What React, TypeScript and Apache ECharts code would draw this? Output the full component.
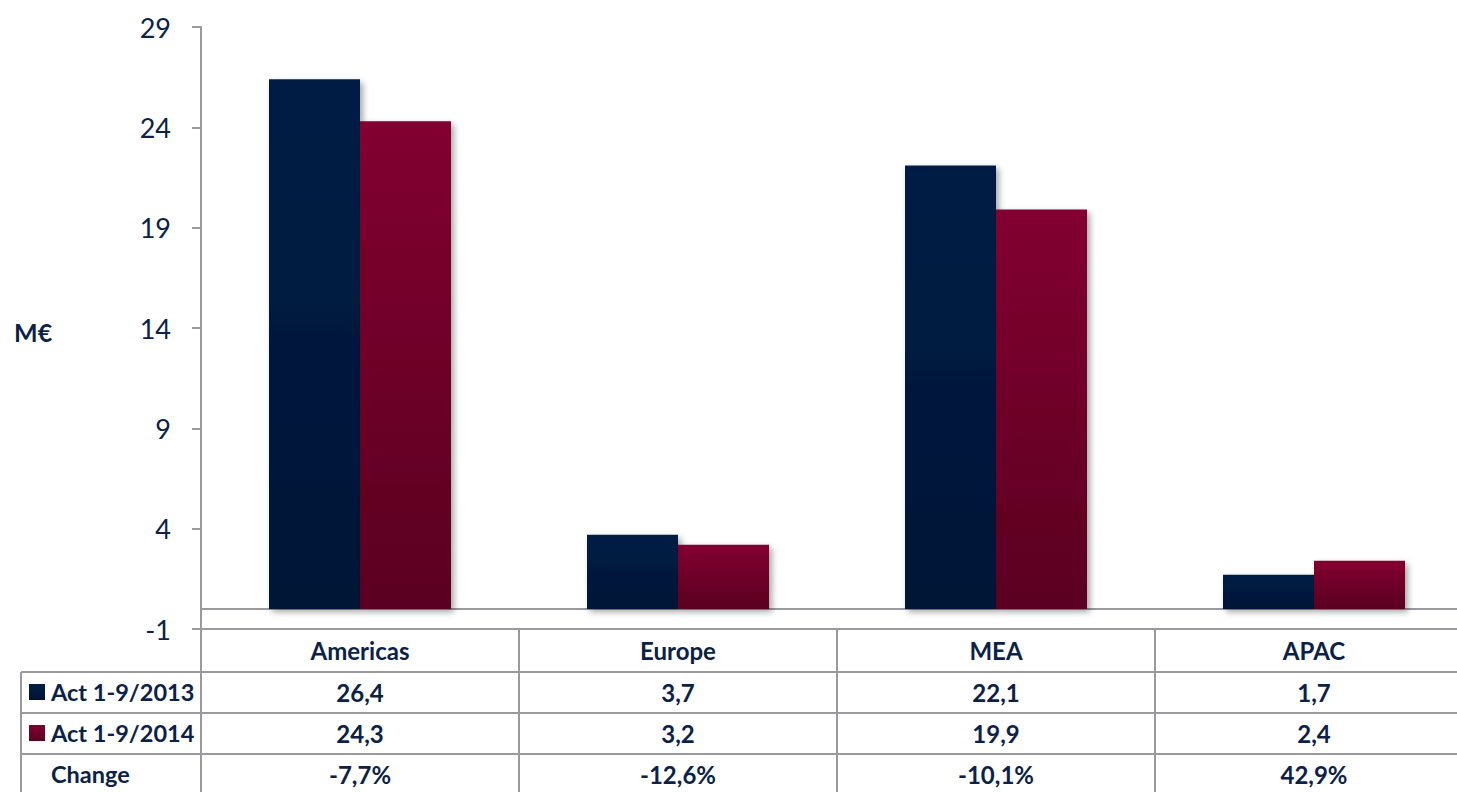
import React, { useEffect, useRef } from "react";
import * as echarts from "echarts";

const categories = ["Americas", "Europe", "MEA", "APAC"];
const seriesNames = ["Act 1-9/2013", "Act 1-9/2014"];
const values2013 = [26.4, 3.7, 22.1, 1.7];
const values2014 = [24.3, 3.2, 19.9, 2.4];
const changeLabels = ["-7,7%", "-12,6%", "-10,1%", "42,9%"];
const yMin = -1;
const yMax = 29;
const yInterval = 5;

const NAVY = "#0b2147";
const GRAY = "#9a9a9e";
const FONT = "Lato, 'Open Sans', sans-serif";

const fmt = (v: number) => v.toFixed(1).replace(".", ",");

const navyGrad = () =>
  new echarts.graphic.LinearGradient(0, 0, 0, 1, [
    { offset: 0, color: "#041f45" },
    { offset: 1, color: "#001336" },
  ]);
const redGrad = () =>
  new echarts.graphic.LinearGradient(0, 0, 0, 1, [
    { offset: 0, color: "#820030" },
    { offset: 1, color: "#5a0020" },
  ]);

export default function App() {
  const ref = useRef<HTMLDivElement>(null);
  useEffect(() => {
    if (!ref.current) return;
    const chart = echarts.init(ref.current, null, { renderer: "svg" });
    const W = 1473;
    const gridTop = 27;
    const gridBottomY = 629;
    const rowLines = [672, 713, 754];

    const labelAxis = (data: string[], margin: number, show: boolean) => ({
      type: "category",
      data,
      position: "bottom",
      gridIndex: 0,
      axisLine: { show, onZero: false, lineStyle: { color: GRAY, width: 2 } },
      axisTick: { show, length: 163, lineStyle: { color: GRAY, width: 2 } },
      axisLabel: {
        show: true,
        interval: 0,
        margin,
        verticalAlign: "middle",
        color: NAVY,
        fontFamily: FONT,
        fontWeight: "bold",
        fontSize: 24,
      },
      splitLine: { show: false },
    });

    const barShadow = {
      shadowColor: "rgba(0,0,0,0.35)",
      shadowBlur: 6,
      shadowOffsetX: 3,
      shadowOffsetY: 3,
    };

    const rowHeaderCenters = [692, 733];

    chart.setOption({
      animation: false,
      backgroundColor: "#ffffff",
      textStyle: { fontFamily: FONT },
      grid: { left: 201, right: 0, top: gridTop, bottom: 792 - gridBottomY, containLabel: false },
      xAxis: [
        {
          type: "category",
          data: categories,
          gridIndex: 0,
          axisLine: { show: true, onZero: true, lineStyle: { color: GRAY, width: 2 } },
          axisTick: { show: false },
          axisLabel: { show: false },
        },
        labelAxis(categories, 21, true),
        labelAxis(values2013.map(fmt), 63, false),
        labelAxis(values2014.map(fmt), 104, false),
        labelAxis(changeLabels, 145, false),
      ],
      yAxis: {
        type: "value",
        min: yMin,
        max: yMax,
        interval: yInterval,
        axisLine: { show: true, lineStyle: { color: GRAY, width: 2 } },
        axisTick: { show: true, inside: false, length: 9, lineStyle: { color: GRAY, width: 2 } },
        splitLine: { show: false },
        axisLabel: { color: NAVY, fontFamily: FONT, fontSize: 27, margin: 30 },
      },
      series: [
        {
          name: seriesNames[0],
          type: "bar",
          xAxisIndex: 0,
          data: values2013,
          barWidth: 91,
          barGap: "0%",
          itemStyle: { color: navyGrad(), ...barShadow },
        },
        {
          name: seriesNames[1],
          type: "bar",
          xAxisIndex: 0,
          data: values2014,
          barWidth: 91,
          barGap: "0%",
          itemStyle: { color: redGrad(), ...barShadow },
        },
      ],
      graphic: [
        ...rowLines.map((y) => ({
          type: "line",
          shape: { x1: 21, y1: y, x2: W, y2: y },
          style: { stroke: GRAY, lineWidth: 2 },
          silent: true,
        })),
        {
          type: "line",
          shape: { x1: 21, y1: 672, x2: 21, y2: 792 },
          style: { stroke: GRAY, lineWidth: 2 },
          silent: true,
        },
        ...seriesNames.map((name, i) => ({
          type: "group",
          children: [
            {
              type: "rect",
              shape: { x: 29, y: rowHeaderCenters[i] - 8, width: 16, height: 16 },
              style: { fill: i === 0 ? navyGrad() : redGrad() },
            },
            {
              type: "text",
              x: 51,
              y: rowHeaderCenters[i],
              style: { text: name, fill: NAVY, font: `bold 23.5px ${FONT}`, verticalAlign: "middle" },
            },
          ],
        })),
        {
          type: "text",
          x: 51,
          y: 774,
          style: { text: "Change", fill: NAVY, font: `bold 23.5px ${FONT}`, verticalAlign: "middle" },
        },
        {
          type: "text",
          x: 14,
          y: 332,
          style: { text: "M€", fill: NAVY, font: `bold 25px ${FONT}`, verticalAlign: "middle" },
        },
      ],
    });
    return () => chart.dispose();
  }, []);
  return (
    <div style={{ width: 1457, height: 792, position: "absolute", left: 0, top: 0, overflow: "hidden" }}>
      <div ref={ref} style={{ width: 1473, height: 792 }} />
    </div>
  );
}
